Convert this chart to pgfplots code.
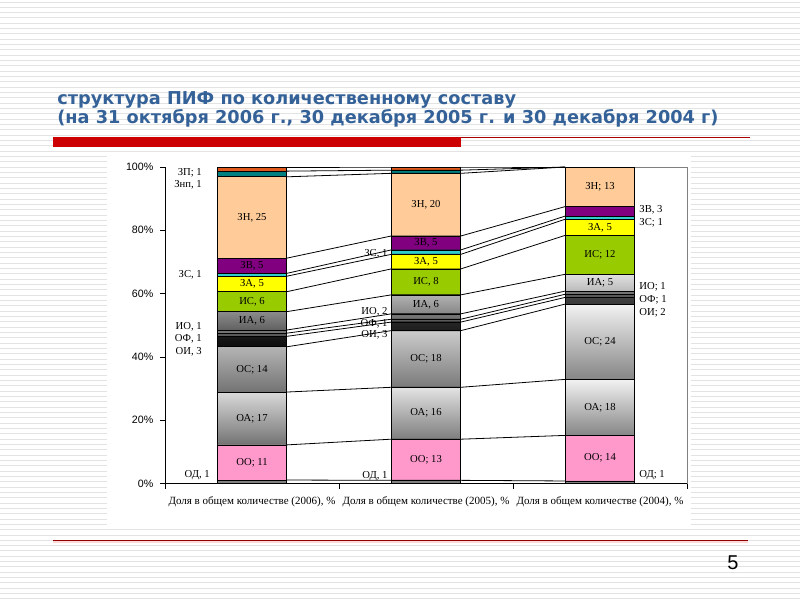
\documentclass[border=0pt]{standalone}
\usepackage{fontspec}
\setmainfont{Liberation Serif}
\newfontfamily\arial{Liberation Sans}
\newfontfamily\titlefont{DejaVu Sans}
\usepackage{pgfplots}
\pgfplotsset{compat=1.18}
\usepackage{pgfplotstable}

\definecolor{ttl}{RGB}{52,98,152}
\definecolor{cOD}{RGB}{128,128,128}
\definecolor{cOO}{RGB}{255,153,204}
\definecolor{cIS}{RGB}{153,204,0}
\definecolor{cZA}{RGB}{255,255,0}
\definecolor{cZS}{RGB}{51,204,204}
\definecolor{cZV}{RGB}{128,0,128}
\definecolor{cZN}{RGB}{255,204,153}
\definecolor{cZnp}{RGB}{0,128,128}
\definecolor{cZP}{RGB}{224,90,30}
\definecolor{redbar}{RGB}{204,0,0}

% shares of each fund type, % (bars normalised to 100)
\pgfplotstableread{
x OD OO OA OS OI OF IO IA IS ZA ZS ZV ZN Znp ZP
0 1.1 11.1 16.7 14.3 3.3 1.0 1.0 5.8 6.3 4.9 0.9 4.8 25.7 1.8 1.3
1 1.0 13.0 16.4 17.9 2.7 0.9 1.7 6.0 8.2 4.6 1.4 4.4 19.8 1.0 1.0
2 0.8 14.4 17.7 23.8 2.1 1.0 1.0 5.3 12.3 5.1 1.0 3.0 12.5 0 0
}\shares

\pgfplotsset{
  base/.style={scale only axis, width=391.5pt, height=237.375pt,
    xmin=-0.5, xmax=2.5, ymin=0, ymax=100,
    at={(123.75pt,-362.625pt)}, anchor=south west},
  sl/.style={black, line width=0.6pt, no markers, forget plot},
}
\tikzset{lab/.style={font=\fontsize{8}{9}\selectfont, inner sep=0pt}}

\begin{document}
\begin{tikzpicture}
\path[use as bounding box] (0pt,0pt) rectangle (600pt,-450pt);
\begin{scope}[x=0.75pt,y=-0.75pt]
\fill[white] (0,0) rectangle (800,600);
\foreach \i in {0,...,112} \draw[gray!22, line width=0.75pt] (0,{2+\i*5.33}) -- (800,{2+\i*5.33});
\fill[white] (107,155) rectangle (691,526);
\node[anchor=base west, inner sep=0pt, text=ttl, font=\titlefont\bfseries\fontsize{13.3}{16}\selectfont] at (57,104) {структура ПИФ по количественному составу};
\node[anchor=base west, inner sep=0pt, text=ttl, font=\titlefont\bfseries\fontsize{13.3}{16}\selectfont] at (57,123) {(на 31 октября 2006 г., 30 декабря 2005 г. и 30 декабря 2004 г)};
\fill[redbar] (53,137.3) rectangle (461,146.7);
\draw[redbar!85!black, line width=0.75pt] (461,137.6) -- (750,137.6);
\draw[red!15, line width=1.5pt] (53,542.2) -- (748,542.2);
\draw[redbar!70!black, line width=0.75pt] (53,540.7) -- (748,540.7);
\node[font=\arial\fontsize{15}{18}\selectfont] at (733,563) {5};
\end{scope}

\begin{axis}[base, ybar stacked, bar width=0.4,
  axis lines*=left, axis line style={black, line width=0.6pt},
  tick align=outside, major tick length=3.75pt,
  tick style={black, line width=0.6pt},
  ytick={0,20,40,60,80,100},
  yticklabels={0\%,20\%,40\%,60\%,80\%,100\%},
  yticklabel style={font=\arial\fontsize{8}{9}\selectfont, xshift=-1.5pt},
  xtick={-0.5,0.5,1.5,2.5}, xticklabels={},
  extra x ticks={0,1,2},
  extra x tick labels={{Доля в общем количестве (2006), \%},
                       {Доля в общем количестве (2005), \%},
                       {Доля в общем количестве (2004), \%}},
  extra x tick style={major tick length=0pt,
     xticklabel style={font=\fontsize{8.25}{10}\selectfont, yshift=-6pt}},
  every axis plot/.append style={draw=black, line width=0.5pt},
]
\addplot[fill=cOD] table[x=x,y=OD]{\shares};
\addplot[fill=cOO] table[x=x,y=OO]{\shares};
\addplot[top color=black!5, bottom color=black!55] table[x=x,y=OA]{\shares};
\addplot[top color=black!5, bottom color=black!55] table[x=x,y=OS]{\shares};
\addplot[top color=black!75, bottom color=black!95] table[x=x,y=OI]{\shares};
\addplot[fill=black!65] table[x=x,y=OF]{\shares};
\addplot[fill=black!55] table[x=x,y=IO]{\shares};
\addplot[top color=black!12, bottom color=black!62] table[x=x,y=IA]{\shares};
\addplot[fill=cIS] table[x=x,y=IS]{\shares};
\addplot[fill=cZA] table[x=x,y=ZA]{\shares};
\addplot[fill=cZS] table[x=x,y=ZS]{\shares};
\addplot[fill=cZV] table[x=x,y=ZV]{\shares};
\addplot[fill=cZN] table[x=x,y=ZN]{\shares};
\addplot[fill=cZnp] table[x=x,y=Znp]{\shares};
\addplot[fill=cZP] table[x=x,y=ZP]{\shares};
\end{axis}

\begin{axis}[base, hide axis, clip=false]
% series lines between cumulative boundaries
\addplot[sl] coordinates {(0.2,1.1) (0.8,1.0) (1.2,1.0) (1.8,0.8)};
\addplot[sl] coordinates {(0.2,12.2) (0.8,14.0) (1.2,14.0) (1.8,15.2)};
\addplot[sl] coordinates {(0.2,28.9) (0.8,30.4) (1.2,30.4) (1.8,32.9)};
\addplot[sl] coordinates {(0.2,43.2) (0.8,48.3) (1.2,48.3) (1.8,56.7)};
\addplot[sl] coordinates {(0.2,46.5) (0.8,51.0) (1.2,51.0) (1.8,58.8)};
\addplot[sl] coordinates {(0.2,47.5) (0.8,51.9) (1.2,51.9) (1.8,59.8)};
\addplot[sl] coordinates {(0.2,48.5) (0.8,53.6) (1.2,53.6) (1.8,60.8)};
\addplot[sl] coordinates {(0.2,54.3) (0.8,59.6) (1.2,59.6) (1.8,66.1)};
\addplot[sl] coordinates {(0.2,60.6) (0.8,67.8) (1.2,67.8) (1.8,78.4)};
\addplot[sl] coordinates {(0.2,65.5) (0.8,72.4) (1.2,72.4) (1.8,83.5)};
\addplot[sl] coordinates {(0.2,66.4) (0.8,73.8) (1.2,73.8) (1.8,84.5)};
\addplot[sl] coordinates {(0.2,71.2) (0.8,78.2) (1.2,78.2) (1.8,87.5)};
\addplot[sl] coordinates {(0.2,96.9) (0.8,98.0) (1.2,98.0) (1.8,100)};
\addplot[sl] coordinates {(0.2,98.7) (0.8,99.0) (1.2,99.0) (1.8,100)};
\addplot[sl] coordinates {(0.2,100) (0.8,100) (1.2,100) (1.8,100)};
% plot-area frame (right side)
\addplot[gray, line width=0.6pt, no markers, forget plot] coordinates {(2.2,100) (2.5,100) (2.5,0)};
% labels inside bars
\node[lab] at (axis cs:0,6.65) {ОО; 11};
\node[lab] at (axis cs:0,20.55) {ОА; 17};
\node[lab] at (axis cs:0,36.05) {ОС; 14};
\node[lab] at (axis cs:0,51.4) {ИА, 6};
\node[lab] at (axis cs:0,57.45) {ИС, 6};
\node[lab] at (axis cs:0,63.05) {ЗА, 5};
\node[lab] at (axis cs:0,68.8) {ЗВ, 5};
\node[lab] at (axis cs:0,84.05) {ЗН, 25};
\node[lab] at (axis cs:1,7.5) {ОО; 13};
\node[lab] at (axis cs:1,22.2) {ОА; 16};
\node[lab] at (axis cs:1,39.35) {ОС; 18};
\node[lab] at (axis cs:1,56.6) {ИА, 6};
\node[lab] at (axis cs:1,63.7) {ИС, 8};
\node[lab] at (axis cs:1,70.1) {ЗА, 5};
\node[lab] at (axis cs:1,76.0) {ЗВ, 5};
\node[lab] at (axis cs:1,88.1) {ЗН, 20};
\node[lab] at (axis cs:2,8.0) {ОО; 14};
\node[lab] at (axis cs:2,24.05) {ОА; 18};
\node[lab] at (axis cs:2,44.8) {ОС; 24};
\node[lab] at (axis cs:2,63.45) {ИА; 5};
\node[lab] at (axis cs:2,72.25) {ИС; 12};
\node[lab] at (axis cs:2,80.95) {ЗА, 5};
\node[lab] at (axis cs:2,93.75) {ЗН; 13};
% labels outside bars
\node[lab, anchor=east] at (axis cs:-0.287,98.2) {ЗП; 1};
\node[lab, anchor=east] at (axis cs:-0.287,94.4) {Знп, 1};
\node[lab, anchor=east] at (axis cs:-0.287,65.9) {ЗС, 1};
\node[lab, anchor=east] at (axis cs:-0.287,49.5) {ИО, 1};
\node[lab, anchor=east] at (axis cs:-0.287,45.6) {ОФ, 1};
\node[lab, anchor=east] at (axis cs:-0.287,41.5) {ОИ, 3};
\node[lab, anchor=east] at (axis cs:-0.241,2.5) {ОД, 1};
\node[lab, anchor=east] at (axis cs:0.78,72.7) {ЗС, 1};
\node[lab, anchor=east] at (axis cs:0.78,54.1) {ИО, 2};
\node[lab, anchor=east] at (axis cs:0.78,50.4) {ОФ, 1};
\node[lab, anchor=east] at (axis cs:0.78,46.9) {ОИ, 3};
\node[lab, anchor=east] at (axis cs:0.78,2.4) {ОД, 1};
\node[lab, anchor=west] at (axis cs:2.225,86.6) {ЗВ, 3};
\node[lab, anchor=west] at (axis cs:2.225,82.4) {ЗС; 1};
\node[lab, anchor=west] at (axis cs:2.225,62.2) {ИО; 1};
\node[lab, anchor=west] at (axis cs:2.225,58.0) {ОФ; 1};
\node[lab, anchor=west] at (axis cs:2.225,53.8) {ОИ; 2};
\node[lab, anchor=west] at (axis cs:2.225,2.5) {ОД; 1};
\end{axis}
\end{tikzpicture}
\end{document}
